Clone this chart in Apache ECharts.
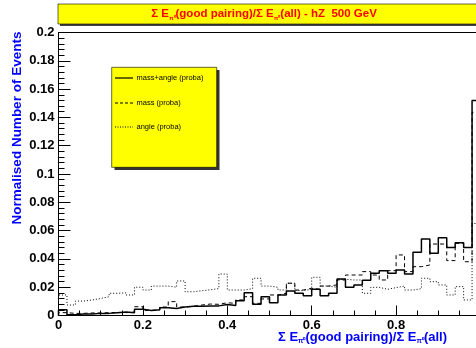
<!DOCTYPE html>
<html>
<head>
<meta charset="utf-8">
<script src="https://cdn.jsdelivr.net/npm/echarts@6/dist/echarts.min.js"></script>
<style>html,body{margin:0;padding:0;background:#fff;}#c{width:476px;height:348px;}</style>
</head>
<body>
<div id="c"></div>
<script>
// ---- data (bin width 0.02, 50 bins from 0 to 1) ----
var binStart = 0;
var binWidth = 0.02;
var massAngle = [0.004,0.0005,0.001,0.001,0.0015,0.0015,0.002,0.0025,0.002,0.0045,
  0.0035,0.004,0.0055,0.005,0.006,0.0065,0.0065,0.0068,0.0068,0.0078,
  0.007,0.0105,0.016,0.008,0.0133,0.009,0.0145,0.0173,0.0157,0.014,
  0.0185,0.014,0.0157,0.0258,0.02,0.0216,0.025,0.0298,0.0317,0.0298,
  0.0322,0.0293,0.0447,0.054,0.044,0.055,0.048,0.0515,0.048,0.152];
var massOnly = [0.002,0.0015,0.0015,0.0018,0.0018,0.002,0.0022,0.002,0.0025,0.0062,
  0.0036,0.004,0.006,0.0098,0.006,0.0065,0.0074,0.0081,0.0079,0.009,
  0.0086,0.011,0.0133,0.0086,0.0117,0.0145,0.0157,0.0228,0.018,0.0192,
  0.0185,0.0208,0.0216,0.0251,0.0286,0.0286,0.031,0.0286,0.0251,0.0317,
  0.0428,0.031,0.0345,0.0357,0.0505,0.0505,0.0388,0.051,0.038,0.1436];
var angleOnly = [0.0145,0.0074,0.0102,0.011,0.012,0.0133,0.0157,0.016,0.0145,0.02,
  0.018,0.0208,0.0208,0.02,0.0244,0.0168,0.0175,0.0182,0.019,0.0293,
  0.018,0.018,0.019,0.0263,0.0208,0.0199,0.018,0.0228,0.0176,0.0185,
  0.027,0.0208,0.0199,0.0256,0.0251,0.0251,0.0157,0.0199,0.0185,0.0197,
  0.0208,0.018,0.019,0.0263,0.0239,0.0216,0.0145,0.0204,0.011,0.065];
var yTicks = {min: 0, max: 0.2, interval: 0.02};
var xTicks = {min: 0, max: 1, interval: 0.2};
var legendNames = ['mass+angle (proba)', 'mass (proba)', 'angle (proba)'];

function stepData(vals) {
  var pts = [[binStart, 0]];
  for (var i = 0; i < vals.length; i++) pts.push([binStart + i * binWidth, vals[i]]);
  pts.push([binStart + vals.length * binWidth, 0]);
  return pts;
}

var chart = echarts.init(document.getElementById('c'), null, {renderer: 'canvas'});
var FONT = '"Liberation Sans", Arial, sans-serif';
var fmt = function (v) { return String(+v.toFixed(3)); };

chart.setOption({
  animation: false,
  backgroundColor: '#fff',
  grid: {left: 58.5, width: 422, top: 32.5, height: 283, outerBoundsMode: 'none', containLabel: false,
         show: true, borderColor: '#000', borderWidth: 1},
  xAxis: {
    type: 'value', min: xTicks.min, max: xTicks.max, interval: xTicks.interval,
    axisLine: {show: true, lineStyle: {color: '#000', width: 1}},
    axisTick: {show: true, inside: true, length: 10, lineStyle: {color: '#000'}},
    minorTick: {show: true, splitNumber: 4, length: 5, lineStyle: {color: '#000'}},
    splitLine: {show: false},
    axisLabel: {color: '#000', fontFamily: FONT, fontWeight: 'bold', fontSize: 13, margin: 3, formatter: fmt, showMaxLabel: true, showMinLabel: true}
  },
  yAxis: {
    type: 'value', min: yTicks.min, max: yTicks.max, interval: yTicks.interval,
    axisLine: {show: true, lineStyle: {color: '#000', width: 1}},
    axisTick: {show: true, inside: true, length: 12, lineStyle: {color: '#000'}},
    minorTick: {show: true, splitNumber: 5, length: 6, lineStyle: {color: '#000'}},
    splitLine: {show: false},
    axisLabel: {color: '#000', fontFamily: FONT, fontWeight: 'bold', fontSize: 13, margin: 4, formatter: fmt}
  },
  series: [
    {name: legendNames[0], type: 'line', step: 'end', symbol: 'none', data: stepData(massAngle),
     lineStyle: {color: '#000', width: 1.5, type: 'solid'}},
    {name: legendNames[1], type: 'line', step: 'end', symbol: 'none', data: stepData(massOnly),
     lineStyle: {color: '#000', width: 1, type: [4, 3]}},
    {name: legendNames[2], type: 'line', step: 'end', symbol: 'none', data: stepData(angleOnly),
     lineStyle: {color: '#000', width: 1, type: [1, 2]}}
  ],
  graphic: [
    // title box
    {type: 'rect', shape: {x: 60, y: 6, width: 420, height: 20}, style: {fill: '#444'}, z: 10},
    {type: 'rect', shape: {x: 58, y: 4, width: 420, height: 20}, style: {fill: '#ffff00', stroke: '#000', lineWidth: 0.6}, z: 11},
    {type: 'text', x: 264, y: 14, z: 12, style: {
      text: '{b|Σ E}{s|π⁰}{b|(good pairing)/Σ E}{s|π⁰}{b|(all) - hZ  500 GeV}',
      align: 'center', verticalAlign: 'middle',
      rich: {
        b: {fontFamily: FONT, fontWeight: 'bold', fontSize: 11.5, fill: '#ff0000', lineHeight: 14, verticalAlign: 'middle'},
        s: {fontFamily: FONT, fontWeight: 'bold', fontSize: 6, fill: '#ff0000', lineHeight: 6, verticalAlign: 'bottom'}
      }
    }},
    // legend box
    {type: 'rect', shape: {x: 114.5, y: 70, width: 105, height: 100}, style: {fill: '#333'}, z: 10},
    {type: 'rect', shape: {x: 111.7, y: 67.3, width: 105, height: 100}, style: {fill: '#ffff00', stroke: '#000', lineWidth: 0.6}, z: 11},
    {type: 'line', shape: {x1: 115, y1: 78, x2: 133, y2: 78}, style: {stroke: '#000', lineWidth: 1.2}, z: 12},
    {type: 'line', shape: {x1: 115, y1: 103, x2: 133, y2: 103}, style: {stroke: '#000', lineWidth: 1, lineDash: [3, 2]}, z: 12},
    {type: 'line', shape: {x1: 115, y1: 127, x2: 133, y2: 127}, style: {stroke: '#000', lineWidth: 1, lineDash: [1, 1.5]}, z: 12},
    {type: 'text', x: 136.5, y: 78, z: 12, style: {text: legendNames[0], fontFamily: FONT, fontSize: 7.5, fill: '#000', verticalAlign: 'middle'}},
    {type: 'text', x: 136.5, y: 103, z: 12, style: {text: legendNames[1], fontFamily: FONT, fontSize: 7.5, fill: '#000', verticalAlign: 'middle'}},
    {type: 'text', x: 136.5, y: 127, z: 12, style: {text: legendNames[2], fontFamily: FONT, fontSize: 7.5, fill: '#000', verticalAlign: 'middle'}},
    // y axis title
    {type: 'text', x: 17, y: 128, rotation: Math.PI / 2, z: 12, style: {
      text: 'Normalised Number of Events', fontFamily: FONT, fontWeight: 'bold', fontSize: 13.5, fill: '#0000ff',
      align: 'center', verticalAlign: 'middle'}},
    // x axis title
    {type: 'text', x: 447, y: 337, z: 12, style: {
      text: '{b|Σ E}{s|π⁰}{b|(good pairing)/Σ E}{s|π⁰}{b|(all)}',
      align: 'right', verticalAlign: 'middle',
      rich: {
        b: {fontFamily: FONT, fontWeight: 'bold', fontSize: 13, fill: '#0000ff', lineHeight: 16, verticalAlign: 'middle'},
        s: {fontFamily: FONT, fontWeight: 'bold', fontSize: 7, fill: '#0000ff', lineHeight: 7, verticalAlign: 'bottom'}
      }
    }}
  ]
});
</script>
</body>
</html>
